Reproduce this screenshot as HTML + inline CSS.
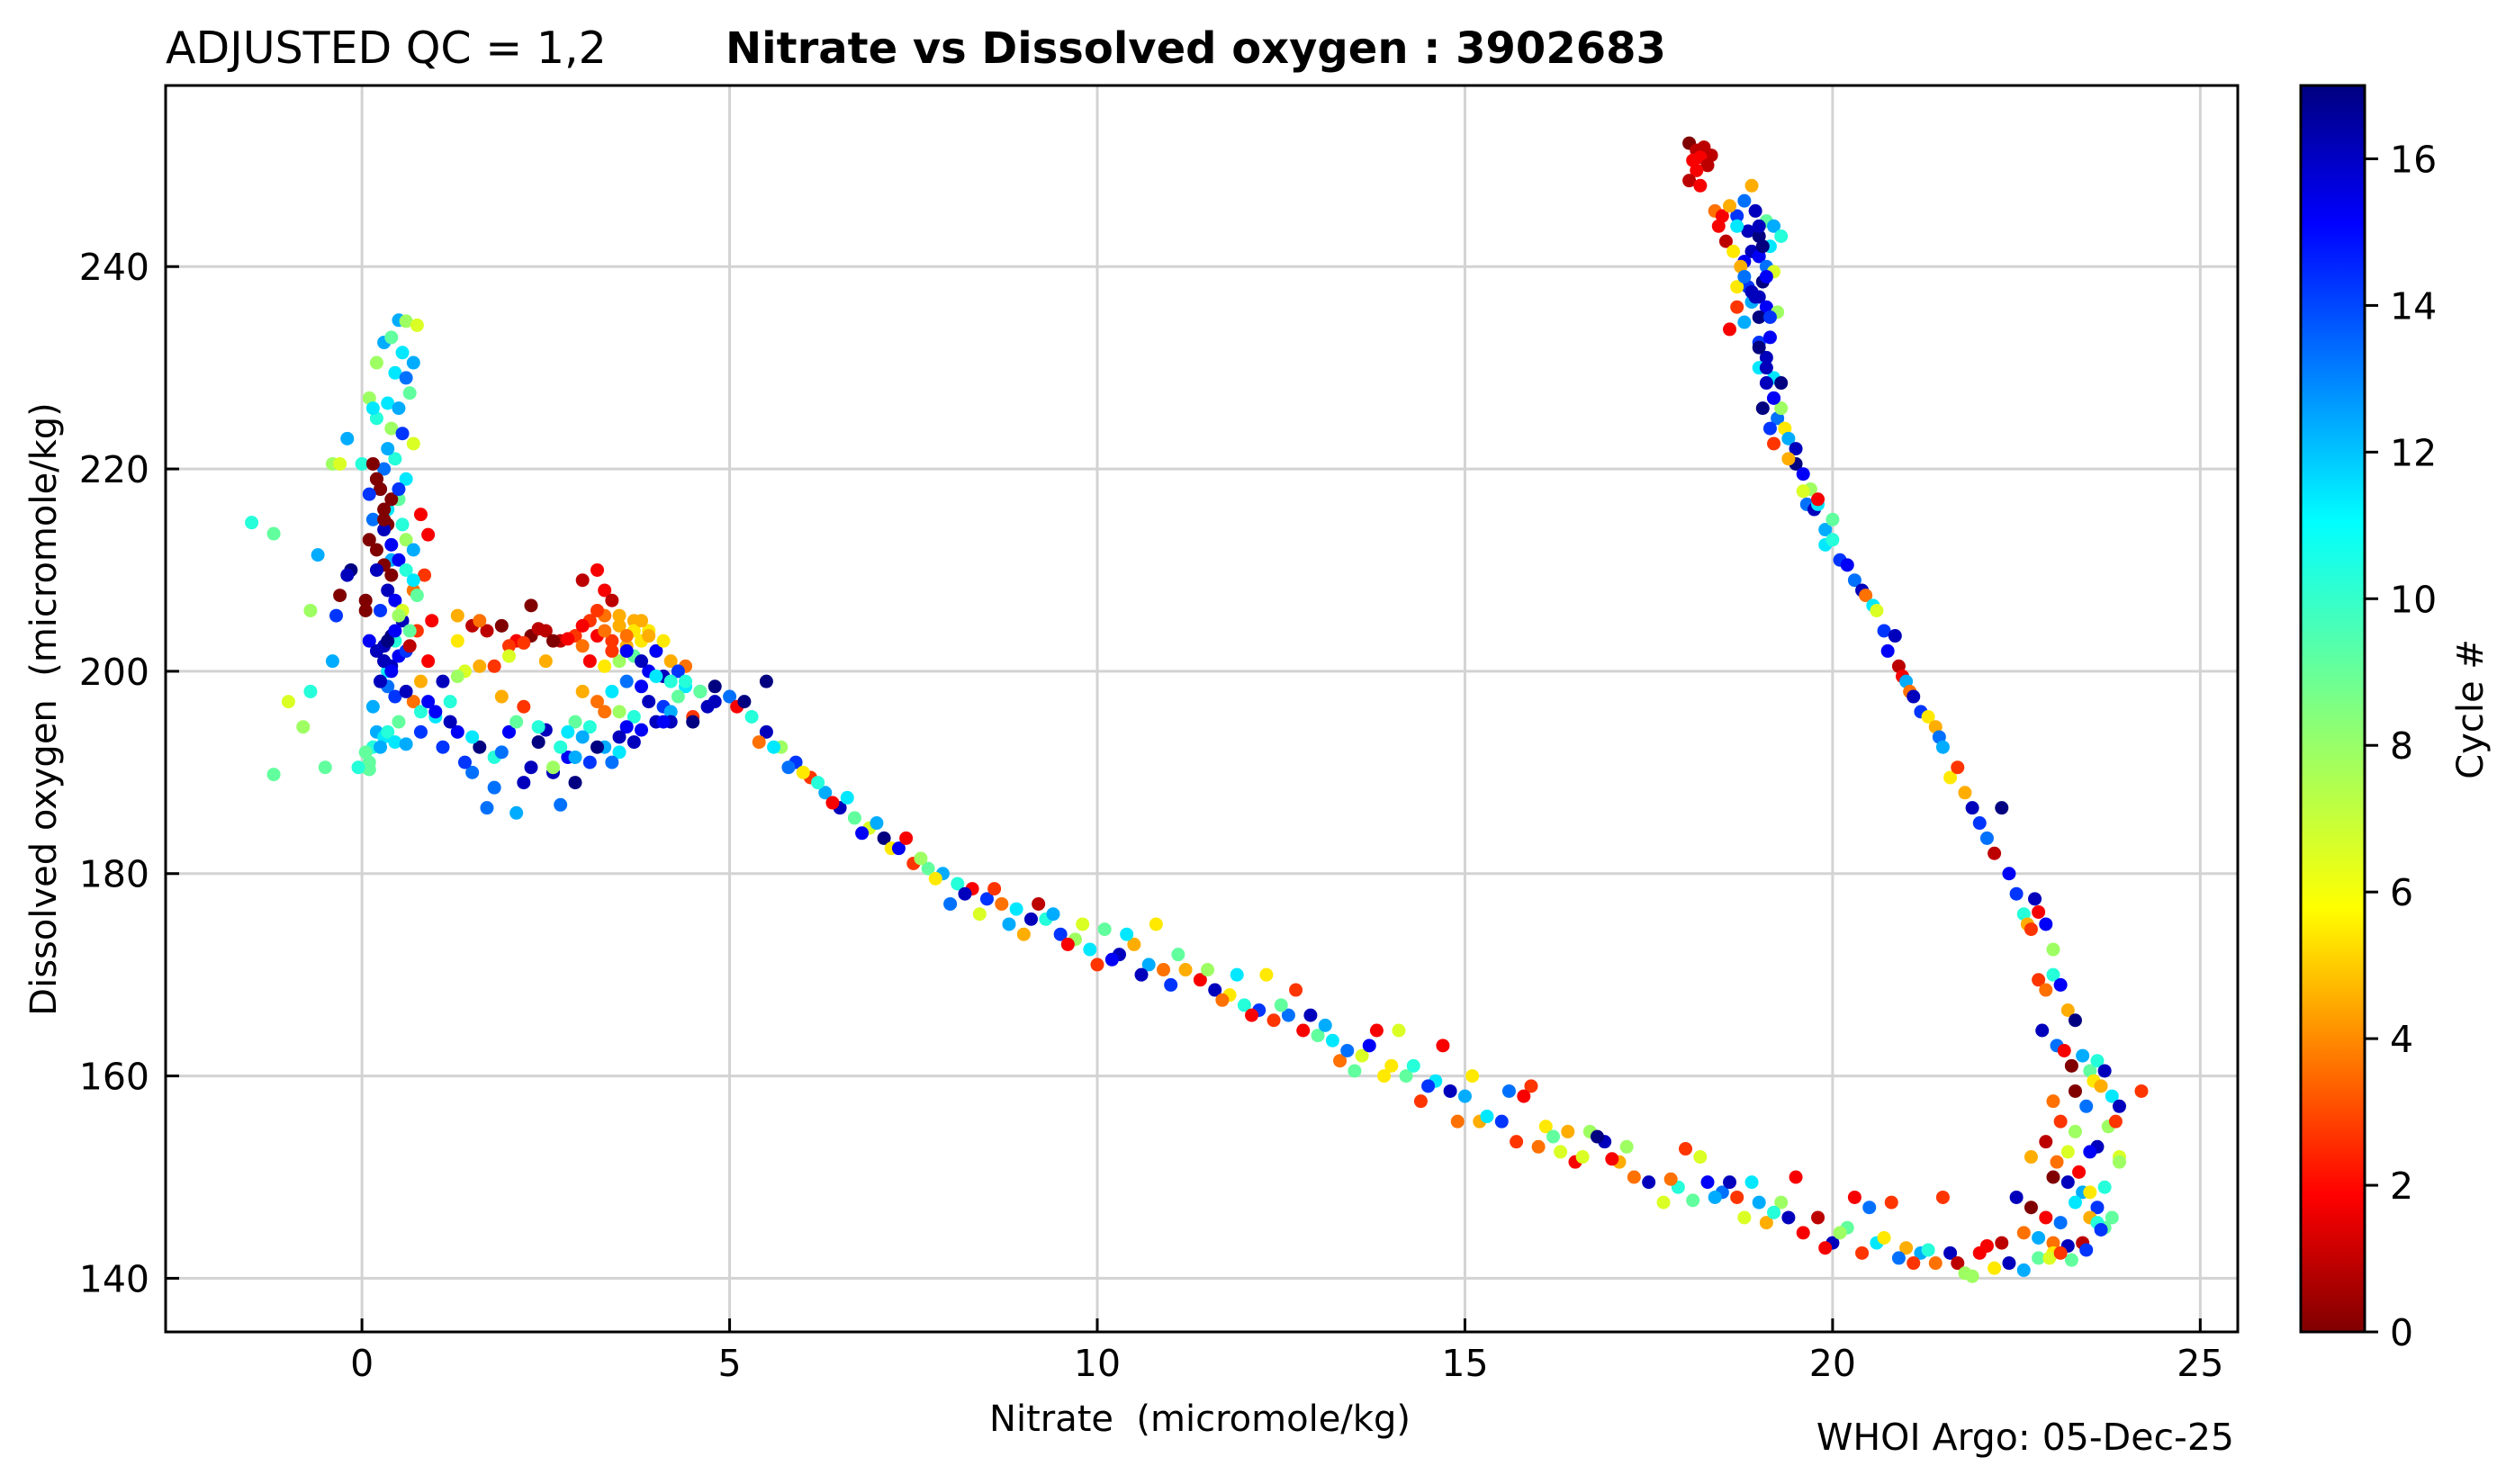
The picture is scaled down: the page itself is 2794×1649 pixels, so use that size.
<!DOCTYPE html>
<html><head><meta charset="utf-8"><style>
html,body{margin:0;padding:0;background:#fff}
svg{display:block;font-family:"DejaVu Sans","Liberation Sans",sans-serif}
</style></head><body>
<svg id="chart" width="2794" height="1649" viewBox="0 0 2794 1649" xmlns="http://www.w3.org/2000/svg">
<defs>
<linearGradient id="jetgrad" x1="0" y1="1" x2="0" y2="0">
<stop offset="0" stop-color="#800000"/><stop offset="0.11" stop-color="#ff0000"/><stop offset="0.34" stop-color="#ffff00"/><stop offset="0.5" stop-color="#80ff80"/><stop offset="0.65" stop-color="#00ffff"/><stop offset="0.89" stop-color="#0000ff"/><stop offset="1" stop-color="#000080"/>
</linearGradient>
<clipPath id="plotclip"><rect x="184" y="95" width="2302" height="1385"/></clipPath>
</defs>
<g id="grid"></g>
<g id="points" clip-path="url(#plotclip)"></g>
<rect x="184" y="95" width="2302" height="1385" fill="none" stroke="#000" stroke-width="3"/>
<g id="ticks"></g>
<text x="184" y="70" font-size="49">ADJUSTED QC = 1,2</text>
<text x="806" y="70" font-size="48" font-weight="bold">Nitrate vs Dissolved oxygen : 3902683</text>
<text x="1333" y="1590" font-size="40" text-anchor="middle">Nitrate&#160;&#160;(micromole/kg)</text>
<text x="0" y="0" font-size="40" text-anchor="middle" transform="translate(62,788) rotate(-90)">Dissolved oxygen&#160;&#160;(micromole/kg)</text>
<text x="2482" y="1611" font-size="41" text-anchor="end">WHOI Argo: 05-Dec-25</text>
<rect x="2556" y="95" width="71" height="1385" fill="url(#jetgrad)" stroke="#000" stroke-width="3"/>
<g id="cbticks"></g>
<text x="0" y="0" font-size="40" text-anchor="middle" transform="translate(2758,788) rotate(-90)">Cycle #</text>
</svg>
<script>
const xTicks=[0,5,10,15,20,25];
const yTicks=[140,160,180,200,220,240];
const cTicks=[0,2,4,6,8,10,12,14,16];
const nitrate=[
0.5,0.6,0.75,0.3,0.4,0.55,0.2,0.45,0.6,0.7,
0.1,0.35,0.5,0.65,0.2,0.4,0.55,0.7,0.0,0.3,
0.45,0.6,0.25,0.5,0.15,0.35,0.55,0.6,0.7,0.4,
0.15,0.2,0.25,0.3,0.35,0.1,0.2,0.3,0.4,0.05,
0.3,0.4,0.5,0.2,0.35,0.45,0.25,0.55,0.4,0.3,
0.1,0.2,0.3,0.4,0.5,0.6,0.25,0.35,0.45,0.15,
0.8,0.9,0.85,0.7,0.95,0.75,0.65,0.9,0.8,0.7,
0.6,0.7,0.75,0.55,0.5,0.65,0.45,0.35,0.8,0.5,
0.2,0.3,0.35,0.15,0.45,0.6,0.8,0.05,0.1,0.25,
0.05,0.1,-0.05,0.6,0.9,1.0,1.1,1.3,1.5,1.8,
-1.5,-1.2,-0.6,-0.7,-0.4,-1.0,-0.7,-0.8,-1.2,-0.3,
-0.35,-0.15,-0.2,0.05,-0.4,-0.5,-0.2,0.15,0.1,-0.3,
1.3,1.5,1.7,1.9,2.1,2.3,2.5,2.7,2.9,1.6,
2.0,2.2,2.4,2.6,1.8,2.8,1.4,3.0,3.1,2.3,
1.3,1.6,2.0,2.5,1.9,2.2,3.0,3.2,3.3,3.4,
3.1,3.3,3.5,3.7,3.9,3.2,3.4,3.6,3.8,4.0,
4.2,4.4,3.5,3.7,3.9,4.1,4.3,3.3,3.6,3.8,
3.6,3.8,4.0,4.2,4.4,4.6,4.8,3.9,4.1,4.3,
4.0,4.4,4.6,4.8,5.0,5.1,5.2,4.2,4.5,4.7,
3.4,3.0,3.2,3.5,3.7,2.9,3.1,3.5,3.3,5.5,
1.0,1.2,1.4,1.6,1.8,2.0,2.2,2.4,2.6,2.8,
1.7,1.9,2.1,2.3,2.7,2.9,3.1,3.3,3.6,4.0,
2.5,2.7,2.9,3.2,3.5,3.8,4.2,4.5,1.5,1.2,
2.1,2.4,2.6,3.0,3.4,3.7,4.1,1.1,1.3,2.8,
5.3,5.5,5.7,5.9,6.1,6.3,6.5,6.7,6.9,7.1,
5.4,5.6,5.8,6.0,6.2,6.4,6.6,6.8,7.0,7.2,
7.3,7.5,7.7,7.9,8.1,8.3,8.5,8.7,8.9,9.1,
7.4,7.6,7.8,8.0,8.2,8.4,8.6,8.8,9.0,9.2,
9.3,9.5,9.7,9.9,10.1,10.3,10.5,10.7,10.9,11.1,
9.4,9.6,9.8,10.0,10.2,10.4,10.6,10.8,11.0,11.2,
11.4,11.6,11.8,12.0,12.2,12.4,12.6,12.8,13.0,13.2,
11.5,11.7,11.9,12.1,12.3,12.5,12.7,12.9,13.1,13.3,
13.4,13.6,13.8,14.0,14.2,14.4,14.6,14.8,15.0,15.2,
13.5,13.7,13.9,14.1,14.3,14.5,14.7,14.9,15.1,15.3,
15.5,15.7,15.9,16.1,16.3,16.5,16.7,16.9,17.1,17.3,
15.6,15.8,16.0,16.2,16.4,16.6,16.8,17.0,17.2,17.5,
17.7,17.9,18.1,18.3,18.5,18.7,18.9,19.1,19.3,19.5,
17.8,18.0,18.2,18.4,18.6,18.8,19.0,19.2,19.4,19.6,
19.8,20.0,20.2,20.4,20.6,20.8,21.0,21.2,21.4,21.6,
19.9,20.1,20.3,20.5,20.7,20.9,21.1,21.3,21.5,21.7,
21.8,22.0,22.2,22.4,22.6,22.8,23.0,21.9,22.1,22.3,
18.05,18.15,18.25,18.35,18.1,18.2,18.3,18.15,18.05,18.2,
18.9,18.8,18.7,18.95,19.1,19.2,19.3,18.85,19.0,19.15,
18.4,18.5,18.6,18.7,18.9,19.0,19.1,19.2,18.8,19.05,
18.45,18.55,18.65,18.75,18.85,19.0,19.1,19.25,18.9,19.0,
18.6,18.7,18.8,18.9,19.0,19.1,19.15,19.2,18.7,18.8,
19.0,19.1,19.2,19.3,19.25,19.35,19.4,19.5,19.2,19.3,
19.5,19.6,19.4,19.7,19.6,19.65,19.75,19.8,19.9,20.0,
19.8,19.9,20.0,20.1,20.2,20.3,20.4,20.45,20.55,20.6,
20.7,20.75,20.85,20.9,20.95,21.0,21.05,21.1,21.2,21.3,
21.4,21.45,21.5,21.6,21.7,21.8,21.9,22.0,22.1,22.2,
22.3,22.4,22.5,22.6,22.65,22.7,22.75,22.8,22.9,23.0,
22.8,22.9,23.0,23.1,23.2,23.3,22.85,23.05,23.15,23.25,
23.4,23.5,23.6,23.7,23.3,23.55,23.65,23.8,23.9,24.2,
23.0,23.1,23.3,23.45,23.6,23.75,23.85,23.9,22.9,23.05,
23.2,23.35,23.5,23.7,23.9,23.0,23.2,23.4,23.6,23.8,
22.7,22.9,23.1,23.3,23.5,23.7,22.6,22.8,23.0,23.4,
23.2,23.45,22.95,23.25,23.6,23.65,23.1,22.5,22.7,23.5,
19.0,19.05,19.1,18.95,19.15,19.0,19.1,19.2,19.05,19.15,
0.3,0.4,0.25,0.35,0.45,0.3,0.4,0.2,0.5,0.35,
3.3,3.5,3.7,3.9,3.4,3.6,3.8,4.1,3.2,3.0
];
const oxygen=[
234.7,234.6,234.2,232.5,233,231.5,230.5,229.5,229,230.5,
227,226.5,226,227.5,225,224,223.5,222.5,220.5,220,
221,219,218,217,215,216,214.5,213,212,211,
220.5,219,218,216,214.5,213,212,210.5,209.5,207,
214,212.5,211,210,208,207,206,205,203.5,202.5,
203,202,201,200.5,201.5,202,199,198.5,197.5,196.5,
215.5,213.5,209.5,208,205,204,202.5,201,199,197,
210,209,207.5,206,205.5,204,203,200,196,195,
194,193.5,194,192.5,193,192.8,194,192,191,192.5,
190.5,190.3,190.5,198,197,195.5,192.5,194,190,191.5,
214.7,213.6,211.5,206,201,197,198,194.5,189.8,207.5,
205.5,210,209.5,206,220.5,190.5,223,226,217.5,220.5,
205.5,204.5,204,204.5,203,203.5,204,203,203.5,205,
202.5,202.8,204.2,203,200.5,203.2,200,202.5,201,206.5,
203,200.5,201.5,201,197.5,196.5,209,210,208,207,
205,205.5,204.5,205,204,203.5,203,202.5,203,202,
201,200.5,201,201.5,200,199.5,200,200.5,199,198.5,
202,201,202,199,198.5,198,198.5,197,196.5,197.5,
199.5,199,198,197,197.5,196.5,197,196,195.5,196.5,
198,198,197,196,195.5,195,194.5,192,196,199,
196,195,191,192.5,188.5,194,189,193,190,191.5,
186.5,192,186,190.5,186.8,189,191,192.5,194.5,195,
194.2,192.5,191.5,192.5,193.5,194.2,195,195,193.5,197,
195,194.5,190.5,193.5,191,193,195,199,199.5,194,
195.5,194,192.5,191,189.5,188,186.5,185.5,184.5,183.5,
193,192.5,190.5,190,189,187,187.5,184,185,182.5,
182.5,181,180.5,180,179,178.5,177.5,177,176.5,175.5,
183.5,181.5,179.5,177,178,176,178.5,175,174,177,
175.5,174,173.5,172.5,174.5,172,173,171,170.5,172,
176,173,175,171,171.5,174,170,175,169,170.5,
169.5,168.5,168,167,166.5,165.5,166,164.5,164,163.5,
170.5,167.5,170,166,170,167,168.5,166,165,161.5,
162.5,162,164.5,161,160,157.5,159.5,158.5,158,155.5,
160.5,163,160,164.5,161,159,163,155.5,160,156,
155.5,153.5,159,155,152.5,151.5,154.5,153.5,151.5,150,
158.5,158,153,154,154.5,152,154,151.8,153,149.5,
147.5,149,147.7,149.5,148.5,148,149.5,145.5,147.5,150,
149.8,152.8,152,148,149.5,146,147.5,146.5,146,144.5,
146,143.5,145,142.5,143.5,147.5,143,142.5,141.5,142.5,
143,144.5,148,147,144,142,141.5,142.8,148,141.5,
140.5,142.5,141,141.5,140.8,142,143.5,140.2,143.2,143.5,
252.2,251.5,251.8,251,250.5,250.8,250,249.5,248.5,248,
248,246.5,245,245.5,244.5,244,243,243.5,243,242,
245.5,245,246,244,241.5,241,240,239.5,240.5,238.5,
244,242.5,241.5,240,238,237,236,235.5,236.5,235,
233.8,238,239,237.5,232.5,231,233,229,236,234.5,
230,228.5,227,228.5,225,224,223,222,222.5,226,
220.5,219.5,221,218,217.8,216.5,216,216.5,214,215,
217,212.5,213,211,210.5,209,208,207.5,206.5,206,
204,202,203.5,200.5,199.5,199,198,197.5,196,195.5,
194.5,193.5,192.5,189.5,190.5,188,186.5,185,183.5,182,
186.5,180,178,176,175,174.5,177.5,176.2,175,172.5,
169.5,168.5,170,169,166.5,165.5,164.5,163,162.5,161,
162,160.5,161.5,160.5,158.5,159.5,159,158,157,158.5,
157.5,155.5,154.5,157,153,155,155.5,152,153.5,151.5,
152.5,150.5,152.5,149,151.5,150,149.5,148.5,147,146,
147,146,145.5,147.5,146,145,144.5,144,142.5,143.5,
143.2,142.8,142,141.8,145.5,144.8,142.5,148,152,148.5,
244,242,239,237,235,232,230,227,226,224,
201,200,199,203,204,215,217,219,218,222,
204,205.5,204,203.5,202,203.5,205,203,206,204.5
];
const cycle=[
12,8,7,12,9,11,8,11,13,12,
8,11,12,9,10,8,14,7,10,13,
10,11,14,9,13,11,10,8,12,12,
0,0,0,0,0,0,0,0,0,0,
16,15,15,16,16,15,14,16,17,16,
15,16,17,16,15,14,13,13,14,12,
2,2,3,4,2,3,1,2,5,4,
10,11,9,7,8,9,10,11,10,9,
12,11,10,10,11,12,14,9,9,12,
9,9,10,16,15,11,14,15,13,10,
10,9,12,8,12,7,10,8,9,0,
14,17,16,0,8,9,12,11,14,7,
5,1,1,0,2,0,1,1,3,4,
3,3,1,0,3,2,7,4,2,0,
6,5,7,5,5,3,1,2,2,1,
3,4,5,5,6,2,3,5,6,7,
5,4,8,9,15,16,14,6,13,15,
15,16,15,10,11,12,17,16,14,9,
11,10,9,16,13,2,17,12,3,16,
11,5,4,8,10,9,10,11,4,17,
15,16,14,17,13,15,16,17,16,15,
13,13,12,16,13,17,14,12,15,16,
16,10,12,17,16,15,16,17,11,10,
9,10,8,12,13,16,15,16,8,11,
10,16,8,14,3,12,16,9,7,17,
4,11,13,6,10,2,11,15,12,6,
15,3,9,12,10,2,14,4,11,16,
2,8,6,13,16,7,3,12,5,1,
10,14,8,11,9,16,5,12,4,9,
12,2,7,3,15,11,16,6,14,5,
2,16,6,10,14,3,13,2,9,11,
8,4,11,2,6,9,3,16,12,4,
13,7,2,6,9,3,11,16,12,5,
9,15,6,7,10,14,2,4,6,11,
14,3,3,6,7,2,8,16,5,4,
13,2,4,9,5,7,17,2,8,16,
7,10,9,15,13,3,11,5,8,2,
4,3,7,12,16,7,12,10,16,2,
1,16,9,3,11,3,5,12,4,16,
2,8,2,13,6,13,3,10,3,1,
8,2,6,16,12,9,4,8,2,1,
0,1,1,1,2,2,1,2,1,2,
5,13,14,16,9,12,10,16,17,11,
4,2,5,11,16,15,13,7,15,17,
2,1,6,5,14,16,15,8,12,17,
2,6,13,16,14,16,15,11,3,12,
11,16,15,17,13,6,12,16,3,8,
17,15,5,8,7,13,16,11,12,9,
2,11,10,14,15,13,16,4,11,7,
14,15,16,1,2,12,4,16,14,6,
5,13,12,6,3,5,16,14,13,1,
17,15,14,10,5,3,16,2,15,8,
3,4,10,15,5,17,16,13,2,0,
12,9,10,16,0,6,5,11,16,3,
4,3,8,13,16,8,3,7,1,4,
7,2,15,10,8,0,16,12,14,9,
0,2,13,11,5,9,4,12,6,1,
16,14,7,9,10,14,3,16,5,6,
16,17,15,16,14,17,16,15,17,14,
16,15,16,17,15,0,0,0,14,12,
4,5,6,5,3,4,5,6,3,2
];
const NS="http://www.w3.org/2000/svg";
const L=184,R=2486,T=95,B=1480;
const XMIN=-2.67,XMAX=25.51,YMIN=134.7,YMAX=257.9,CMIN=0,CMAX=17;
function sx(v){return L+(v-XMIN)/(XMAX-XMIN)*(R-L);}
function sy(v){return B-(v-YMIN)/(YMAX-YMIN)*(B-T);}
function sc(v){return B-(v-CMIN)/(CMAX-CMIN)*(B-T);}
function jetR(t){
  t=1-Math.max(0,Math.min(1,t));
  const f=(a)=>Math.max(0,Math.min(1,a));
  const r=f(1.5-Math.abs(4*t-3)), g=f(1.5-Math.abs(4*t-2)), b=f(1.5-Math.abs(4*t-1));
  return "rgb("+Math.round(r*255)+","+Math.round(g*255)+","+Math.round(b*255)+")";
}
function mk(tag,attrs,parent){const e=document.createElementNS(NS,tag);for(const k in attrs)e.setAttribute(k,attrs[k]);parent.appendChild(e);return e;}
const grid=document.getElementById('grid'),ticks=document.getElementById('ticks'),pts=document.getElementById('points'),cbt=document.getElementById('cbticks');
xTicks.forEach(v=>{
  const x=sx(v);
  const g=mk('line',{x1:x,x2:x,y1:T,y2:B,stroke:'#d3d3d3','stroke-width':3},grid);
  
  
  const t=mk('line',{x1:x,x2:x,y1:B,y2:B-15,stroke:'#000','stroke-width':3},ticks);
  
  
  const l=mk('text',{x:x,y:1529,'font-size':41,'text-anchor':'middle'},ticks);
  l.textContent=v;
  
  
});
yTicks.forEach(v=>{
  const y=sy(v);
  const g=mk('line',{x1:L,x2:R,y1:y,y2:y,stroke:'#d3d3d3','stroke-width':3},grid);
  
  
  const t=mk('line',{x1:L,x2:L+15,y1:y,y2:y,stroke:'#000','stroke-width':3},ticks);
  
  
  const l=mk('text',{x:166,y:y+15,'font-size':41,'text-anchor':'end'},ticks);
  l.textContent=v;
  
  
});
cTicks.forEach(v=>{
  const y=sc(v);
  const t=mk('line',{x1:2627,x2:2642,y1:y,y2:y,stroke:'#000','stroke-width':3},cbt);
  
  
  const l=mk('text',{x:2655,y:y+15,'font-size':41},cbt);
  l.textContent=v;
  
  
});
for(let i=0;i<nitrate.length;i++){
  const c=mk('circle',{cx:sx(nitrate[i]),cy:sy(oxygen[i]),r:7.5,fill:jetR((cycle[i]-CMIN)/(CMAX-CMIN))},pts);
  
  
}
</script>
</body></html>
